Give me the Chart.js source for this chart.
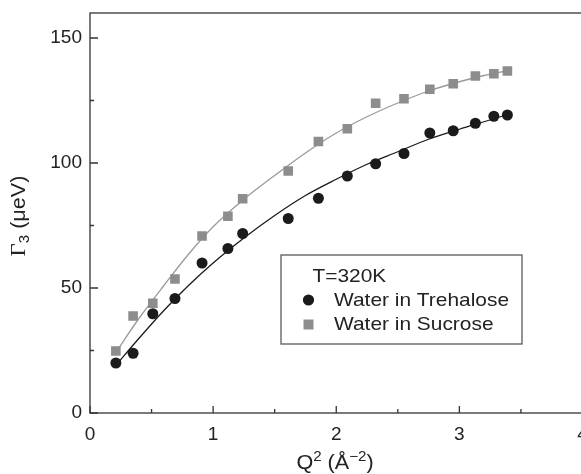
<!DOCTYPE html>
<html>
<head>
<meta charset="utf-8">
<script src="https://cdn.jsdelivr.net/npm/chart.js@4/dist/chart.umd.min.js"></script>
<style>
  html, body { margin: 0; padding: 0; background: #fff; overflow: hidden; }
  #wrap { position: relative; width: 590px; height: 474px; }
</style>
</head>
<body>
<div id="wrap"><canvas id="c"></canvas></div>
<script>
// Measured relaxation widths at 320 K
const q2 = [0.21, 0.35, 0.51, 0.69, 0.91, 1.12, 1.24, 1.61, 1.855, 2.09, 2.32, 2.55, 2.76, 2.95, 3.13, 3.28, 3.39];
const gammaTrehalose = [20, 23.9, 39.7, 45.8, 60, 65.8, 71.8, 77.8, 85.9, 94.8, 99.7, 103.8, 112, 112.9, 115.9, 118.7, 119.2];
const gammaSucrose = [24.8, 38.8, 43.9, 53.6, 70.8, 78.7, 85.7, 96.8, 108.6, 113.7, 123.9, 125.7, 129.5, 131.7, 134.8, 135.7, 136.8];

// Fitted curves
const fitQ2 = [0.2, 0.4, 0.6, 0.8, 1.0, 1.25, 1.5, 1.75, 2.0, 2.25, 2.5, 2.75, 3.0, 3.2, 3.4];
const fitTrehalose = [18.5, 30, 41, 51, 60, 70, 79, 87, 93.5, 99.5, 104.5, 109.5, 113.5, 116.5, 119.5];
const fitSucrose = [23.5, 38, 51, 63.5, 74.5, 85.5, 95, 104, 112, 118.5, 124, 128.8, 132.5, 135, 137];

// Axis ticks
const xMajor = [0, 1, 2, 3, 4];
const xMinor = [0.5, 1.5, 2.5, 3.5];
const yMajor = [0, 50, 100, 150];
const yMinor = [25, 75, 125];

const legendTitle = 'T=320K';
const seriesNames = ['Water in Trehalose', 'Water in Sucrose'];

const BLACK = '#1b1b1b';
const GREY = '#8d8d8d';
const GREY_LINE = '#9a9a9a';
const AXIS = '#333';
const SANS = '"Liberation Sans", Arial, Helvetica, sans-serif';
const SERIF = '"Liberation Serif", "Times New Roman", serif';

const pts = (xs, ys) => xs.map((x, i) => ({ x: x, y: ys[i] }));

// Frame, inward ticks, axis titles and the boxed legend
const decor = {
  id: 'decor',
  afterDraw(chart) {
    const ctx = chart.ctx;
    const a = chart.chartArea;
    const xs = chart.scales.x, ys = chart.scales.y;
    ctx.save();
    ctx.strokeStyle = AXIS;
    ctx.lineWidth = 1.3;
    ctx.strokeRect(a.left, a.top, a.right - a.left, a.bottom - a.top);
    ctx.beginPath();
    xMajor.forEach(v => { const p = xs.getPixelForValue(v); ctx.moveTo(p, a.bottom); ctx.lineTo(p, a.bottom - 7); });
    xMinor.forEach(v => { const p = xs.getPixelForValue(v); ctx.moveTo(p, a.bottom); ctx.lineTo(p, a.bottom - 4); });
    yMajor.forEach(v => { const p = ys.getPixelForValue(v); ctx.moveTo(a.left, p); ctx.lineTo(a.left + 8, p); });
    yMinor.forEach(v => { const p = ys.getPixelForValue(v); ctx.moveTo(a.left, p); ctx.lineTo(a.left + 4, p); });
    ctx.stroke();

    ctx.fillStyle = '#222';
    ctx.textBaseline = 'alphabetic';
    ctx.textAlign = 'left';

    // x title: Q² (Å⁻²)
    const xParts = [
      { t: 'Q', f: '20px ' + SANS, dy: 0 },
      { t: '2', f: '14px ' + SANS, dy: -8 },
      { t: ' (Å', f: '20px ' + SANS, dy: 0 },
      { t: '−2', f: '14px ' + SANS, dy: -8 },
      { t: ')', f: '20px ' + SANS, dy: 0 }
    ];
    drawParts(ctx, xParts, 335, 469, false);

    // y title: Γ₃ (μeV)
    const yParts = [
      { t: 'Γ', f: '21px ' + SERIF, dy: 0 },
      { t: '3', f: '14px ' + SANS, dy: 4 },
      { t: ' (μeV)', f: '20px ' + SANS, dy: 0 }
    ];
    drawParts(ctx, yParts, 25, 216, true);

    // legend box
    ctx.strokeStyle = '#666';
    ctx.lineWidth = 1.4;
    ctx.strokeRect(281, 255, 241, 89);
    ctx.font = '19px ' + SANS;
    ctx.fillStyle = '#222';
    drawStretched(ctx, legendTitle, 312.5, 281.5);
    drawStretched(ctx, seriesNames[0], 334, 305.5);
    drawStretched(ctx, seriesNames[1], 334, 330);
    ctx.fillStyle = BLACK;
    ctx.beginPath();
    ctx.arc(308.5, 300, 5.6, 0, Math.PI * 2);
    ctx.fill();
    ctx.fillStyle = GREY;
    ctx.fillRect(303.5, 319.5, 10, 10);
    ctx.restore();
  }
};

function drawStretched(ctx, text, x, y) {
  ctx.save();
  ctx.translate(x, y);
  ctx.scale(1.1, 1);
  ctx.fillText(text, 0, 0);
  ctx.restore();
}

function drawParts(ctx, parts, cx, cy, rotated) {
  let w = 0;
  parts.forEach(p => { ctx.font = p.f; p.w = ctx.measureText(p.t).width * 1.08; w += p.w; });
  ctx.save();
  ctx.translate(cx, cy);
  if (rotated) ctx.rotate(-Math.PI / 2);
  let x = -w / 2;
  parts.forEach(p => {
    ctx.font = p.f;
    ctx.save();
    ctx.translate(x, p.dy);
    ctx.scale(1.08, 1);
    ctx.fillText(p.t, 0, 0);
    ctx.restore();
    x += p.w;
  });
  ctx.restore();
}

function noPad(s) {
  s.paddingLeft = 0; s.paddingRight = 0; s.paddingTop = 0; s.paddingBottom = 0;
}

new Chart(document.getElementById('c'), {
  type: 'scatter',
  data: {
    datasets: [
      {
        label: 'fit sucrose',
        data: pts(fitQ2, fitSucrose),
        showLine: true, pointRadius: 0, borderColor: GREY_LINE, borderWidth: 1.3,
        cubicInterpolationMode: 'monotone', order: 4
      },
      {
        label: 'fit trehalose',
        data: pts(fitQ2, fitTrehalose),
        showLine: true, pointRadius: 0, borderColor: BLACK, borderWidth: 1.3,
        cubicInterpolationMode: 'monotone', order: 3
      },
      {
        label: seriesNames[1],
        data: pts(q2, gammaSucrose),
        pointStyle: 'rect', pointRadius: 6.8, backgroundColor: GREY, borderWidth: 0,
        order: 2
      },
      {
        label: seriesNames[0],
        data: pts(q2, gammaTrehalose),
        pointStyle: 'circle', pointRadius: 5.5, backgroundColor: BLACK, borderWidth: 0,
        order: 1
      }
    ]
  },
  options: {
    responsive: true,
    maintainAspectRatio: false,
    animation: false,
    layout: { padding: { left: 0, top: 13, right: 7.5, bottom: 0 } },
    plugins: { legend: { display: false }, tooltip: { enabled: false } },
    scales: {
      x: {
        type: 'linear', min: 0, max: 4,
        grid: { display: false, drawTicks: false },
        border: { display: false },
        afterBuildTicks: s => { s.ticks = xMajor.map(v => ({ value: v })); },
        ticks: { color: '#222', font: { family: SANS, size: 19 }, padding: 10, maxRotation: 0 },
        afterFit: s => { s.height = 61; noPad(s); }
      },
      y: {
        type: 'linear', min: 0, max: 160,
        grid: { display: false, drawTicks: false },
        border: { display: false },
        afterBuildTicks: s => { s.ticks = yMajor.map(v => ({ value: v })); },
        ticks: { color: '#222', font: { family: SANS, size: 19 }, padding: 8 },
        afterFit: s => { s.width = 90; noPad(s); }
      }
    }
  },
  plugins: [decor]
});
</script>
</body>
</html>
